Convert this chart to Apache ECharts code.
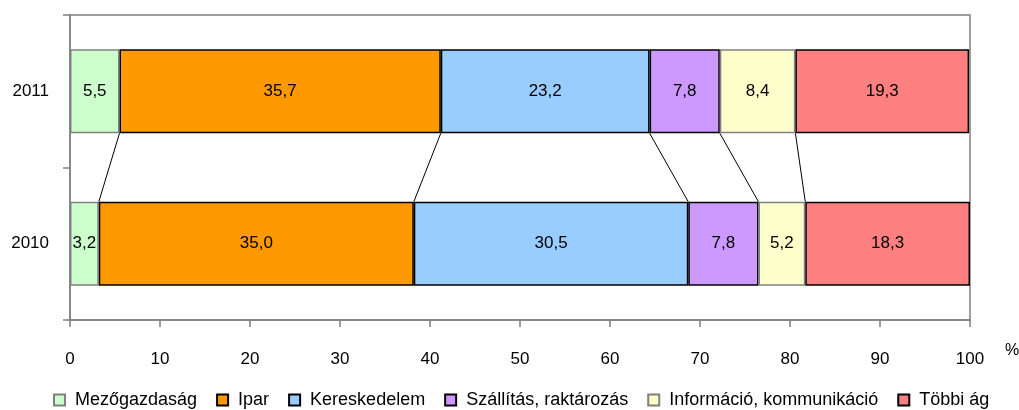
<!DOCTYPE html>
<html>
<head>
<meta charset="utf-8">
<script src="https://cdn.jsdelivr.net/npm/echarts@6/dist/echarts.min.js"></script>
<style>html,body{margin:0;padding:0;background:#fff}#c{width:1019px;height:410px}</style>
</head>
<body>
<div id="c"></div>
<script>
const years = ['2010', '2011'];
const seriesNames = ['Mezőgazdaság', 'Ipar', 'Kereskedelem', 'Szállítás, raktározás', 'Információ, kommunikáció', 'Többi ág'];
const values2010 = [3.2, 35.0, 30.5, 7.8, 5.2, 18.3];
const values2011 = [5.5, 35.7, 23.2, 7.8, 8.4, 19.3];
const xTicks = [0, 10, 20, 30, 40, 50, 60, 70, 80, 90, 100];

const colors = ['#CCFFCC', '#FF9900', '#99CCFF', '#CC99FF', '#FFFFCC', '#FF8080'];
const borders = ['#808080', '#000000', '#000000', '#000000', '#808080', '#000000'];
const BAR_RATIO = 0.55;
const numFont = "'Liberation Sans', Arial, sans-serif";
const txtFont = "'Liberation Sans', Arial, sans-serif";

function fmt(v) { return v.toFixed(1).replace('.', ','); }

// cumulative boundaries for connector lines
const bounds = [];
let c10 = 0, c11 = 0;
for (let i = 0; i < seriesNames.length - 1; i++) {
  c10 += values2010[i]; c11 += values2011[i];
  bounds.push([c11, c10, 0]);
}

const series = seriesNames.map((n, i) => ({
  name: n,
  type: 'bar',
  stack: 'total',
  barWidth: (BAR_RATIO * 100) + '%',
  data: [values2010[i], values2011[i]],
  itemStyle: { color: colors[i], borderColor: borders[i], borderWidth: 1.5 },
  label: {
    show: true, position: 'inside', color: '#000',
    fontFamily: numFont, fontSize: 17,
    formatter: p => fmt(p.value)
  }
}));

series.push({
  type: 'custom',
  name: 'conn',
  data: bounds,
  encode: { x: [0, 1], y: 2 },
  silent: true,
  z: 1,
  renderItem: function (params, api) {
    const a = api.value(0), b = api.value(1);
    const top = api.coord([a, 1]);
    const bot = api.coord([b, 0]);
    const band = api.size([0, 1])[1];
    const h = band * BAR_RATIO / 2;
    return {
      type: 'line',
      shape: { x1: top[0], y1: top[1] + h, x2: bot[0], y2: bot[1] - h },
      style: { stroke: '#000', lineWidth: 1 }
    };
  }
});

const chart = echarts.init(document.getElementById('c'));
chart.setOption({
  animation: false,
  grid: { left: 70, right: 49, top: 15, bottom: 90, show: true, borderColor: '#808080', borderWidth: 1.5 },
  xAxis: {
    type: 'value', min: xTicks[0], max: xTicks[xTicks.length - 1], interval: 10,
    axisLine: { show: true, lineStyle: { color: '#808080', width: 1.5 } },
    axisTick: { show: true, length: 7, lineStyle: { color: '#808080', width: 1.5 } },
    splitLine: { show: false },
    axisLabel: { color: '#000', fontFamily: numFont, fontSize: 17, margin: 31 }
  },
  yAxis: {
    type: 'category', data: years,
    axisLine: { show: true, lineStyle: { color: '#808080', width: 1.5 } },
    axisTick: { show: true, length: 7, inside: false, lineStyle: { color: '#808080', width: 1.5 } },
    axisLabel: { color: '#000', fontFamily: numFont, fontSize: 17, margin: 21 }
  },
  legend: {
    data: seriesNames,
    left: 48, top: 386,
    itemWidth: 11, itemHeight: 11, itemGap: 19,
    icon: 'rect',
    textStyle: { color: '#000', fontFamily: txtFont, fontSize: 18, padding: [0, 0, 0, 5] }
  },
  graphic: [{
    type: 'text', left: 1005, top: 343,
    style: { text: '%', fill: '#000', font: "16px 'Liberation Sans', Arial, sans-serif" }
  }],
  series: series
});
</script>
</body>
</html>
